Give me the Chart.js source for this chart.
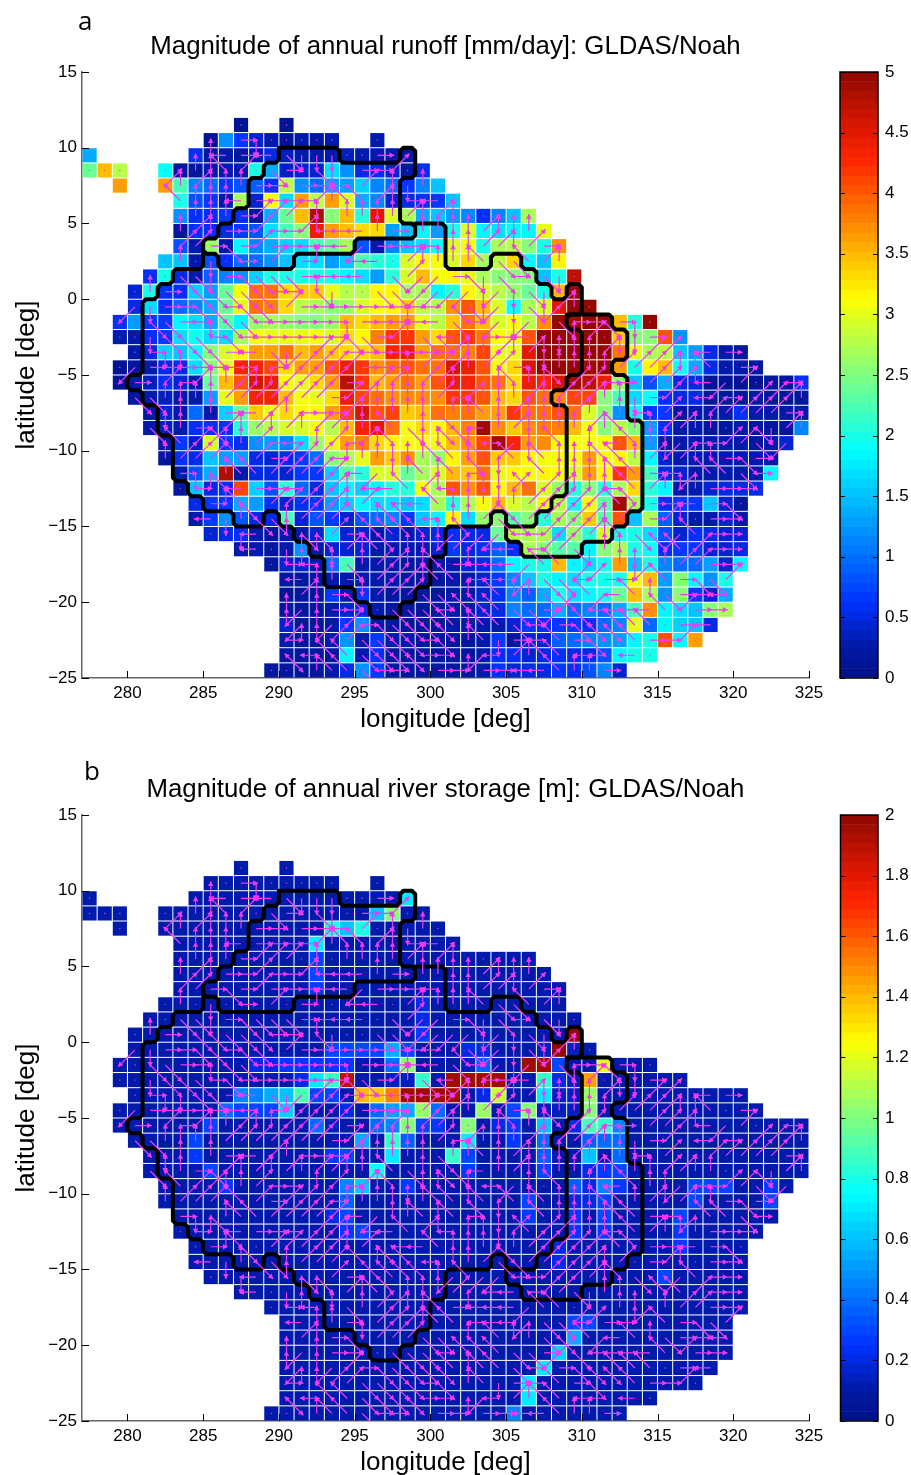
<!DOCTYPE html>
<html>
<head>
<meta charset="utf-8">
<title>Magnitude of annual runoff and river storage</title>
<script src="https://cdn.jsdelivr.net/npm/chart.js@4/dist/chart.umd.min.js"></script>
<style>
  html, body { margin: 0; padding: 0; background: #fff; overflow: hidden; }
  #page { position: relative; width: 911px; height: 1475px; overflow: hidden; }
  canvas { position: absolute; }
  .tag { position: absolute; font-family: "Open Sans", sans-serif; font-size: 26px; line-height: 30px; color: #000; }
</style>
</head>
<body>
<div id="page">
  <canvas id="mapA" width="911" height="737" style="left:0;top:0"></canvas>
  <canvas id="barA" width="81" height="737" style="left:830px;top:0"></canvas>
  <canvas id="mapB" width="911" height="737" style="left:0;top:743px"></canvas>
  <canvas id="barB" width="81" height="737" style="left:830px;top:743px"></canvas>
  <div class="tag" style="left:78px;top:5px">a</div>
  <div class="tag" style="left:84px;top:755px">b</div>
</div>
<script>
const lonTicks = [280, 285, 290, 295, 300, 305, 310, 315, 320, 325];
const latTicks = [-25, -20, -15, -10, -5, 0, 5, 10, 15];
const runoffBarTicks = [0, 0.5, 1, 1.5, 2, 2.5, 3, 3.5, 4, 4.5, 5];
const storageBarTicks = [0, 0.2, 0.4, 0.6, 0.8, 1, 1.2, 1.4, 1.6, 1.8, 2];

// upper latitude of each row of 1 degree cells, and the western longitude of its first cell
const rowTops = [12, 11, 10, 9, 8, 7, 6, 5, 4, 3, 2, 1, 0, -1, -2, -3, -4, -5, -6, -7, -8, -9, -10, -11, -12, -13, -14, -15, -16, -17, -18, -19, -20, -21, -22, -23, -24];
const rowStarts = [287, 285, 277, 277, 279, 283, 283, 283, 283, 282, 281, 280, 280, 279, 279, 280, 279, 279, 280, 281, 281, 282, 282, 283, 283, 284, 284, 285, 287, 289, 290, 290, 290, 290, 290, 290, 289];

const n = null;
// panel a, mm/day
const runoff = [
  [.1,n,n,.1],
  [.1,1.2,.7,.4,.3,.1,.25,.2,.25,n,n,.3],
  [1.4,n,n,n,n,n,n,.6,.2,.25,.2,.3,.5,.35,.25,.25,.3,.35,.3,.3,.3,.2],
  [2.4,3.5,2.8,n,n,1.95,.2,.2,.3,.3,.3,2,1.4,.35,.4,.4,1.7,1.2,.5,.6,.4,.2,.6],
  [3.6,n,n,3.6,2.2,1.1,1,.7,.8,.9,.6,2.8,1.2,1,1.3,1.3,1.6,1.1,1,.7,1.1,1.5],
  [2,.8,.7,.3,2.7,.4,3.1,1.7,3.6,2.8,3.6,2.9,1.4,1.1,.4,.5,.6,.7,1.5],
  [1.2,.6,.6,.7,.6,.2,1.4,2.4,3.5,4.8,2.5,3.5,2.1,4.5,2.9,2.7,1.4,1.5,1.3,1.1,.6,1.1,1.5,2.7],
  [.2,.6,.6,.5,.7,.8,1.7,2.2,2.5,4.4,3.6,3.5,3.3,3.3,1.3,1.5,1.8,1.3,2,2.9,1.8,1.7,1.8,1.8,3],
  [.8,.3,2.6,.3,1.8,1.1,1.4,1.6,1.7,2.2,2.4,2.7,.8,.3,1.1,1.5,1.7,1.9,2.9,3.1,2,2.7,2.8,2.5,2,3.7],
  [1.5,1.5,.3,.8,.6,1,1,1.2,1.5,1.7,1.7,1.3,1.5,2.3,2.1,2,2.9,3.2,3.1,2.9,3.3,2.7,2.8,3.3,1.8,1.5,3.2],
  [.6,2,.5,.3,.9,1.1,1.2,1.6,2,2,2,2,2,1.8,1.7,1.3,2.1,2.9,3.5,3.1,3.2,3,2.7,2.5,2.5,2.5,1.5,2,4.7],
  [.4,2,.6,.6,1.6,1.3,2.4,3.1,3.9,3.9,3.3,3.4,3.4,3,2.8,2.8,3.2,3.2,2.7,2.7,1.8,2.1,3.2,2.9,2.8,2.6,2.4,2,3.5,5],
  [.5,1.7,.6,1,1.1,1.4,2.4,3,3.9,3.8,3.3,2.8,2.7,2.5,2.6,2.9,3.1,3.2,3.4,2.8,2.8,3.7,4,3.5,2.9,1.9,2.7,2.9,4.5,5,5],
  [.6,1.3,.7,.7,1.8,1.7,1.4,2.3,1.8,2.6,2.7,2.6,2.5,2.5,2.6,3.5,3.3,3.5,3.6,3.6,3,2.8,3.4,3.9,3.5,2.9,3.1,2.8,3.7,5,4.9,5,5,3.5,2.1,5],
  [.3,.25,.6,.7,1.7,1.9,1.7,1.7,2.7,3.1,3,3,3,3.1,2.9,3.3,3.2,3.8,4.2,4.2,3.6,3.3,4,4.2,3.9,3.1,3,4,5,5,5,5,5,3.4,2.5,2.5,4,1.2],
  [.3,.5,1.6,1.5,1.9,2.5,2.9,3.2,3.6,3.6,3.9,3.5,3.6,3.4,3.3,3.3,3.5,4.3,4.4,3.6,3.9,3.9,3.8,4.1,3,3,4.5,5,5,5,5,5,3.9,3,2.7,2.8,1.5,1.3,.5,.3,.2],
  [.15,.2,.3,.5,.5,1.7,2.5,3,4.3,4.3,4.1,3.3,3.6,3.6,4,4.4,4.2,3.7,3.9,4,3.9,3.9,4.6,4.4,4,3.1,3.3,4.6,5,5,5,4.9,5,3.6,2,3.2,3.5,1.9,1.4,.5,.3,.3,.2],
  [.1,.3,.35,.6,.4,.3,2.4,3.5,4,4.6,4.4,3.1,3,3.3,3.6,4.7,4.2,3.5,3.6,3.9,3.6,4,4.4,4.3,4,3.9,3.3,4.4,4.3,4.6,4.9,4.7,4.4,2.6,1.5,.8,1.4,.5,.5,.15,.15,.15,.15,.2,.2,.6],
  [.2,.3,.35,.3,.3,1.3,3,3.6,4.3,4.3,3.5,3.1,3,3.3,4.4,4.1,3.9,3.7,3.7,3.7,3.7,4.2,4.2,4,3.5,3.3,4,3.9,3.7,4.1,4.1,2.5,2.2,1.7,1.9,.6,.5,.5,.2,.2,.2,.3,.2,.2,.2],
  [.25,.4,.3,1,.3,1.6,2.4,3.4,3,3.3,3.2,3.2,3.6,4.1,4.6,4,4.1,3.4,3.5,3.9,3.8,3.9,3.6,3.6,4.2,3.9,3.9,4,3.9,2.9,2.5,1.2,1.8,.7,.7,.2,.3,.3,.3,.6,.3,.3,.3,.3],
  [.25,.35,.3,.6,.6,.6,2.1,2.6,2.8,2.9,2.9,3.1,2.8,3.5,4.3,4.5,3.9,3.1,3.3,3.2,3.5,3.8,4.9,3.7,3.4,3.7,3.8,3.8,3.5,3.1,2.5,2.8,2.5,1.3,.6,.3,.25,.2,.2,.25,.2,.2,.2,1.1],
  [.3,.7,.35,2.9,.7,.6,1.2,1.3,1.1,1.7,2.6,3,3.6,3.8,3.3,3.2,3.1,3.1,3.1,3.5,3.7,4.1,4.9,4.3,3.6,3.7,3.1,3.1,3.1,3.1,4,3.5,1.3,.3,.25,.3,.25,.25,.25,.2,.3,.4],
  [.2,.6,.5,1.5,1.3,1.3,.5,.4,.5,.7,1,2.5,2.7,3,3.6,3.4,3.7,2.7,2.6,3.2,3.6,4,3.4,3.4,3.2,3.1,3.1,3.1,3.6,3.1,3.2,2.8,1.8,.4,.25,.3,.25,.3,.25,.3,.3],
  [.3,.8,1.4,4.8,.3,.5,.5,.4,.7,.7,1.6,2.3,2.1,2.9,2.9,2.4,2.7,2.9,3.5,3.4,3.9,3,3.2,3.1,3.2,3.1,2.9,3.6,3.2,4.2,3.6,2.2,.5,.4,.25,.3,.3,.3,.3,1.8],
  [.2,1.5,.5,.6,4.1,1.6,.8,2.1,1,.5,1.5,1.8,1.6,1.8,2.1,2.1,3.1,2.7,4,3.7,4,3.2,3.5,3.9,2.9,2.6,2.1,2.5,2.1,2.7,3.3,2.1,1.8,.3,.3,.4,.5,.5,.5],
  [.5,.7,.7,1.4,1.3,.6,.4,.6,.7,1.3,1.6,1.8,1.7,1.7,1.5,1.7,2.7,2.1,2.7,3.1,3.5,2.9,2.8,3.1,2.8,1.9,3.1,2.3,4.9,2.7,2,.6,.7,.7,1.5,.4,.2],
  [.3,.7,1.2,.8,.5,.5,2.2,.4,.8,.7,.4,.8,1,1.1,.7,1.5,1.8,3.2,1.7,2.6,2.5,2.3,2.5,2.1,2.7,2.5,3.4,2.3,4,1.5,2.7,.9,.4,.3,.3,.4,.3],
  [.4,.5,.6,.3,.2,.3,.3,.4,1.7,.4,.4,.3,.4,.3,.4,.5,.6,.5,.5,2.4,2.8,2.7,2.7,1.7,2.6,2.1,2.9,2,2,1.7,.8,.4,.6,.5,.4,.4],
  [.3,.25,.2,.25,1.2,.3,.4,.4,.4,.3,.3,.3,.3,.4,.7,.5,.6,.9,.6,2.7,2.5,2.3,2.3,1.8,2.5,2.7,2,1.9,.6,.7,.7,.4,.4,.5],
  [.2,.4,.4,.3,1,2.2,.3,.3,.3,.2,.3,.3,.3,.4,.5,1,1.8,2,2,3.5,1.8,1.7,2,3.6,1.5,2,1.1,1,1,1.3,.4,1.8],
  [.2,.2,.2,.3,.3,.3,.3,.3,.2,.2,.2,.3,.3,.4,.7,1.1,1.5,2,1.8,1.7,2,2,2,3.1,3.5,1.3,2.5,1.8,1.2,2],
  [.1,.2,.2,.7,.3,.7,.3,.2,.2,.2,.2,.3,.3,.4,.6,1.1,.9,1.4,2,1.7,1.8,2,2.4,3.5,2.7,1.2,2.5,.7,.4,1.4],
  [.2,.2,.2,.3,.4,.5,.3,.2,.2,.2,.2,.3,.3,.4,.5,1.1,1,1,1.4,1,1.1,1,1.4,2.2,3.7,1.8,1.7,1.5,2.5,2.7],
  [.4,.2,.2,.3,.7,1.2,.3,.2,.2,.2,.2,.3,.25,.3,.3,.4,.7,.6,.7,.7,.6,1,1.1,3,1,1.8,1.6,1.5,.5],
  [.3,.2,.2,.3,1.2,.3,.7,.3,.3,.2,.2,.2,.2,.3,.7,.2,.4,.4,.9,1,1.1,1.2,1.3,1.8,2,4,1.8,3.6],
  [.2,.2,.2,.2,1.8,.3,.6,.2,.2,.2,.2,.2,.2,.3,.6,.6,.4,.5,.6,.5,.5,.8,1.8,2,2],
  [.2,.2,.2,.2,.3,.5,1.2,.7,.2,.2,.2,.2,.2,.2,.3,.6,.4,.5,.5,.7,.6,.8,1.1,.4]
];

// panel b, m
const storage = [
  [.1,n,n,.1],
  [.1,.1,.1,.1,.1,.1,.1,.1,.1,n,n,.1],
  [.1,n,n,n,n,n,n,.1,.1,.1,.1,.1,.1,.1,.1,.1,.1,.1,.1,.1,.1,.7],
  [.1,.1,.1,n,n,.1,.1,.1,.1,.1,.1,.1,.1,.1,.1,.1,.1,.1,.1,.6,1,.1,.1],
  [.1,n,n,.1,.1,.1,.1,.1,.1,.1,.1,.1,.1,.1,.8,.6,.8,.1,.1,.1,.1,.1],
  [.1,.1,.1,.1,.1,.1,.1,.1,.1,.7,.1,.1,.1,.1,.1,.1,.1,.1,.1],
  [.1,.1,.1,.1,.1,.1,.1,.1,.1,.3,.1,.1,.1,.1,.1,.1,.1,.1,.1,.1,.1,.1,.1,.1],
  [.1,.1,.1,.1,.1,.1,.1,.1,.1,.3,.1,.1,.1,.1,.1,.1,.1,.1,.1,.1,.1,.1,.1,.1,.1],
  [.1,.1,.1,.1,.1,.1,.1,.1,.1,.25,.1,.1,.1,.1,.1,.1,.1,.1,.1,.1,.1,.1,.1,.1,.1,.1],
  [.1,.1,.1,.1,.1,.1,.1,.1,.1,.1,.1,.1,.1,.1,.1,.1,.1,.2,.1,.1,.1,.1,.1,.1,.1,.1,.1],
  [.1,.1,.1,.1,.1,.1,.1,.1,.1,.1,.1,.1,.1,.1,.1,.1,.1,.1,.2,.1,.1,.1,.1,.1,.1,.1,.1,.1,.1],
  [.1,.1,.1,.1,.1,.1,.1,.1,.1,.1,.1,.1,.1,.1,.1,.1,.1,.1,.1,.25,.1,.1,.1,.15,.1,.1,.1,.1,.1,2],
  [.1,.1,.1,.1,.1,.1,.1,.1,.1,.1,.1,.1,.1,.3,.3,.3,.3,.55,.3,.1,.1,.1,.2,.2,.1,.1,.1,.15,2,.15,.1],
  [.1,.1,.1,.1,.1,.1,.1,.1,.1,.2,.2,.25,.25,.25,.25,.25,.1,.1,.4,1,.1,.1,.1,.15,.35,.1,.1,1.95,1.95,.3,.1,.1,1.2,.1,.1,.1],
  [.1,.1,.1,.1,.1,.1,.1,.1,.1,.1,.1,.1,.2,.7,.85,1.9,.1,.1,.15,.15,.85,.1,1.95,1.95,1.95,1.95,.1,.1,.85,.2,.15,1.45,.1,.1,.1,.1,.1,.1],
  [.1,.1,.1,.1,.1,.1,.1,.45,.45,.55,.6,.9,.3,.3,.1,1.4,1.35,1.5,1.95,1.95,1.95,1.95,.1,.2,1.15,.1,.1,.7,.15,.15,1.05,.1,.1,.1,.1,.1,.1,.1,.1,.1,.1],
  [.1,.1,.1,.1,.1,.1,.1,.4,.3,.3,.3,.65,.1,.1,.1,.2,.1,.4,.5,.55,1.05,.4,.1,.1,1.05,.1,.3,1,.15,.15,.15,1,.1,.1,.1,.1,.1,.1,.1,.1,.1,.1,.1],
  [.1,.1,.1,.1,.1,.1,.3,.1,.1,.1,.1,.1,.1,.4,.15,.1,.1,.4,.45,1,.3,.25,.1,1,.1,.2,.25,.1,.6,.1,.2,.9,.85,.45,.1,.1,.1,.1,.1,.1,.1,.1,.1,.1,.1,.1],
  [.1,.1,.1,.1,.3,.1,.1,.1,.1,.1,.1,.1,.1,.1,.1,.55,.1,.85,.35,.1,.1,.1,.7,.1,.1,.25,.1,.4,.1,.1,.35,.4,.4,.1,.1,.1,.1,.1,.1,.1,.1,.1,.1,.1,.1],
  [.1,.1,.1,.25,.1,.1,.1,.1,.1,.1,.1,.1,.25,.3,.1,.1,.7,.1,.1,.1,.85,.3,.1,.1,.1,.1,.35,.1,.1,.6,.1,.4,.1,.1,.1,.1,.1,.1,.1,.1,.1,.1,.1,.1],
  [.1,.1,.1,.1,.3,.1,.1,.1,.1,.1,.1,.1,.1,.1,.1,.75,.1,.1,.1,.1,.1,.25,.1,.1,.1,.1,.3,.1,.1,.2,.25,.3,.1,.1,.1,.1,.1,.1,.1,.1,.1,.1,.1,.1],
  [.1,.1,.1,.1,.25,.1,.1,.1,.1,.1,.1,.1,.45,.6,.1,.1,.25,.1,.1,.1,.1,.1,.1,.1,.1,.1,.1,.35,.2,.45,.25,.1,.1,.1,.1,.3,.3,.3,.1,.1,.25,.1],
  [.1,.1,.1,.1,.1,.1,.1,.1,.1,.1,.1,.1,.35,.1,.1,.1,.1,.1,.1,.1,.1,.1,.1,.1,.3,.1,.1,.2,.2,.3,.1,.1,.1,.1,.1,.3,.1,.1,.1,.1,.3],
  [.1,.1,.1,.1,.1,.1,.1,.1,.1,.1,.2,.3,.1,.1,.1,.1,.1,.1,.1,.1,.1,.1,.1,.25,.1,.1,.25,.1,.3,.1,.1,.1,.1,.3,.1,.1,.1,.1,.1,.1],
  [.1,.1,.1,.1,.1,.1,.1,.1,.1,.1,.1,.25,.3,.1,.1,.1,.1,.1,.1,.1,.1,.1,.1,.1,.1,.1,.25,.1,.25,.1,.1,.1,.1,.25,.1,.1,.1,.1,.1],
  [.1,.1,.1,.1,.1,.1,.1,.1,.1,.1,.1,.1,.1,.1,.1,.1,.1,.1,.1,.1,.1,.1,.1,.1,.2,.1,.1,.1,.1,.1,.1,.1,.25,.1,.1,.1,.1],
  [.1,.1,.1,.1,.1,.1,.1,.1,.1,.1,.1,.1,.1,.1,.1,.1,.1,.1,.1,.1,.1,.1,.1,.1,.2,.1,.1,.1,.1,.1,.1,.1,.1,.1,.1,.1,.1],
  [.1,.1,.1,.1,.1,.1,.1,.1,.1,.1,.1,.1,.1,.1,.1,.1,.1,.1,.1,.1,.1,.1,.1,.1,.1,.1,.1,.1,.1,.1,.3,.1,.1,.1,.1,.1],
  [.1,.1,.1,.1,.1,.1,.1,.1,.1,.1,.1,.1,.1,.1,.1,.1,.1,.1,.1,.1,.1,.1,.1,.1,.1,.1,.1,.1,.1,.1,.1,.1,.1,.1],
  [.1,.1,.1,.1,.1,.1,.1,.1,.1,.1,.1,.1,.1,.1,.1,.1,.1,.1,.1,.1,.1,.1,.1,.1,.1,.1,.1,.1,.1,.1,.1,.1],
  [.1,.1,.1,.1,.1,.1,.1,.1,.1,.1,.1,.1,.1,.1,.1,.1,.1,.1,.1,.3,.3,.1,.1,.1,.1,.1,.1,.1,.1,.1],
  [.1,.1,.1,.1,.1,.1,.1,.1,.1,.1,.1,.1,.1,.1,.1,.1,.1,.1,.1,.55,.1,.1,.1,.1,.1,.1,.1,.1,.1,.1],
  [.1,.1,.1,.1,.1,.1,.1,.1,.1,.1,.1,.1,.1,.1,.1,.1,.1,.1,.65,.1,.1,.1,.1,.1,.1,.1,.1,.1,.1,.1],
  [.1,.1,.1,.1,.1,.1,.1,.1,.1,.1,.1,.1,.1,.1,.1,.1,.1,.7,.1,.1,.1,.1,.1,.1,.1,.1,.1,.1,.1],
  [.1,.1,.1,.1,.1,.1,.1,.1,.1,.1,.1,.1,.1,.1,.1,.1,.7,.1,.1,.1,.1,.1,.1,.1,.1,.1,.1,.1],
  [.1,.1,.1,.1,.1,.1,.1,.1,.1,.1,.1,.1,.1,.1,.1,.1,.7,.1,.1,.1,.1,.1,.1,.1,.1],
  [.1,.1,.1,.1,.1,.1,.1,.1,.1,.1,.1,.1,.1,.1,.1,.1,.45,.1,.1,.1,.1,.1,.1,.1]
];

// flow direction of each cell, keypad style: 8 north, 6 east, 3 south-east ... 5 no arrow
const flowDirs = [
  "5  5",
  "556255555  5",
  "5      584654322255655",
  "555  558879536532566955",
  "5  9898886656654958285",
  "7888466669877986545",
  "588869995858888989855555",
  "8986696698444865888898885",
  "99636966654416665488998965",
  "585256595685544598888733798",
  "55332633336244453911632365325",
  "586533333665325533511112123255",
  "1266336335966666662443321232985",
  "553366233666666266654436512193663625",
  "55233363666666633698334566142289522655",
  "56223365432199666666698898928889859955465",
  "5166666544659999666899989965388889999887565",
  "56596988988999965998998518788799665999841" + "95565",
  "338888999999969988889658889899988269554659998",
  "52858654986669888883887898889818659559999965",
  "38863989898998857383354898888587889988553298",
  "5799889665896987288" + "78541857585478816699351",
  "8999579699968888887" + "7872787888778989886365",
  "623877999995418878" + "7672557888877654177365",
  "568346654998544798" + "488297998884798886665",
  "56835999998935447" + "88838999995776654635",
  "54283389995787764" + "88933999998956985665",
  "5524583396577778" + "17116699998735517665",
  "54528829877888" + "92544699328855779665",
  "568483899887" + "65444177511881899665",
  "54886299987" + "7544413369668576339",
  "59863899933" + "3857883357147836654",
  "81866553336" + "5777336935444479665",
  "81819633333" + "787736963337775654",
  "68899333363" + "78726547637776695",
  "35477333366" + "55149877544545",
  "557877366576" + "686654478865"
];
const dirSteps = { "8": [0, 1], "9": [1, 1], "6": [1, 0], "3": [1, -1], "2": [0, -1], "1": [-1, -1], "4": [-1, 0], "7": [-1, 1] };

// basin outlines, corners on whole degrees
const northLon = [290,294,294,298,298,299,299,298,298,299,299,295,295,291,291,286,286,285,285,286,286,287,287,288,288,289,289,290,290];
const northLat = [10,10,9,9,10,10,8,8,5,5,4,4,3,3,2,2,3,3,4,4,5,5,6,6,8,8,9,9,10];
const mainLon = [285,285,283,283,282,282,281,281,280,280,281,281,282,282,283,283,284,284,285,285,287,287,289,289,290,290,291,291,292,292,293,293,295,295,296,296,298,298,299,299,300,300,301,301,304,304,305,305,307,307,308,308,309,309,308,308,309,309,310,310,309,309,310,310,309,309,308,308,307,307,306,306,304,304,301,301,299];
const mainLat = [3,2,2,1,1,0,0,-5,-5,-6,-6,-7,-7,-9,-9,-12,-12,-13,-13,-14,-14,-15,-15,-14,-14,-15,-15,-16,-16,-17,-17,-19,-19,-20,-20,-21,-21,-20,-20,-19,-19,-17,-17,-15,-15,-14,-14,-15,-15,-14,-14,-13,-13,-7,-7,-6,-6,-5,-5,-2,-2,-1,-1,1,1,0,0,1,1,2,2,3,3,2,2,5,5];
const eastLon = [309,312,312,313,313,312,312,313,313,314,314,313,313,312,312,310,310,306,306,305,305];
const eastLat = [-1,-1,-2,-2,-4,-4,-5,-5,-8,-8,-14,-14,-15,-15,-16,-16,-17,-17,-16,-16,-15];

// jet with a greener low end and a softer red, as the colour bar shows
const jetStops = [
  [0, 0, 15, 135], [0.05, 0, 25, 165], [0.125, 0, 50, 255], [0.375, 0, 255, 255],
  [0.625, 255, 255, 0], [0.85, 255, 40, 0], [0.9, 225, 25, 0], [1, 140, 8, 0]
];
const colorLevels = 64;

function jetColor(t) {
  for (let i = 1; i < jetStops.length; i++) {
    if (t <= jetStops[i][0]) {
      const a = jetStops[i - 1], b = jetStops[i];
      const f = (t - a[0]) / (b[0] - a[0]);
      return `rgb(${Math.round(a[1] + f * (b[1] - a[1]))},${Math.round(a[2] + f * (b[2] - a[2]))},${Math.round(a[3] + f * (b[3] - a[3]))})`;
    }
  }
  return "rgb(140,8,0)";
}

function levelColor(v, max) {
  const level = Math.min(colorLevels - 1, Math.floor(v / max * colorLevels));
  return jetColor((level + 0.5) / colorLevels);
}

// cut each corner a little so the outline looks rounded like the original
function roundCorners(lons, lats) {
  const pts = [];
  const cut = 0.22;
  lons.forEach((lon, i) => {
    if (i === 0 || i === lons.length - 1) { pts.push({ x: lon, y: lats[i] }); return; }
    const dx1 = Math.sign(lons[i - 1] - lon), dy1 = Math.sign(lats[i - 1] - lats[i]);
    const dx2 = Math.sign(lons[i + 1] - lon), dy2 = Math.sign(lats[i + 1] - lats[i]);
    pts.push({ x: lon + dx1 * cut, y: lats[i] + dy1 * cut });
    pts.push({ x: lon + dx2 * cut, y: lats[i] + dy2 * cut });
  });
  return pts;
}

function buildCells(values, max) {
  const points = [], colors = [];
  values.forEach((row, r) => {
    row.forEach((v, c) => {
      if (v === null) return;
      points.push({ x: rowStarts[r] + c + 0.5, y: rowTops[r] - 0.5 });
      colors.push(levelColor(v, max));
    });
  });
  return { points, colors };
}

function buildArrows() {
  const lines = [], heads = [], angles = [], dots = [];
  const reach = 1.12;
  flowDirs.forEach((row, r) => {
    for (let c = 0; c < row.length; c++) {
      const x = rowStarts[r] + c + 0.5, y = rowTops[r] - 0.5;
      const step = dirSteps[row[c]];
      if (row[c] === "5") dots.push({ x, y });
      if (!step) continue;
      const len = Math.hypot(step[0], step[1]);
      const tipX = x + step[0] * reach, tipY = y + step[1] * reach;
      lines.push({ x, y }, { x: tipX, y: tipY }, { x: NaN, y: NaN });
      heads.push({ x: tipX - step[0] / len * 0.21, y: tipY - step[1] / len * 0.21 });
      angles.push(Math.atan2(step[0], step[1]) * 180 / Math.PI);
    }
  });
  return { lines, heads, angles, dots };
}

const arrows = buildArrows();
const tickFont = { family: "'Liberation Sans', Arial, sans-serif", size: 17 };
const labelFont = { family: "'Liberation Sans', Arial, sans-serif", size: 26 };
const titleFont = { family: "'Liberation Sans', Arial, sans-serif", size: 25.8, weight: "normal", lineHeight: 1.2 };
const minusLabel = v => String(v).replace("-", "\u2212");

// matlab style ticks, pointing into the plot
const innerTicks = {
  id: "innerTicks",
  afterDatasetsDraw(chart) {
    const { ctx, chartArea, scales } = chart;
    ctx.save();
    ctx.strokeStyle = "#000";
    ctx.lineWidth = 1;
    ctx.beginPath();
    scales.x.ticks.forEach(t => {
      const px = Math.round(scales.x.getPixelForValue(t.value)) + 0.5;
      ctx.moveTo(px, chartArea.bottom);
      ctx.lineTo(px, chartArea.bottom - 7);
    });
    scales.y.ticks.forEach(t => {
      const py = Math.round(scales.y.getPixelForValue(t.value)) + 0.5;
      ctx.moveTo(chartArea.left, py);
      ctx.lineTo(chartArea.left + 7, py);
    });
    ctx.stroke();
    ctx.restore();
  }
};

const barFrame = {
  id: "barFrame",
  afterDatasetsDraw(chart) {
    const { ctx, chartArea, scales } = chart;
    ctx.save();
    ctx.strokeStyle = "#000";
    ctx.lineWidth = 1.5;
    ctx.strokeRect(chartArea.left, chartArea.top, chartArea.width, chartArea.height);
    ctx.lineWidth = 1;
    ctx.beginPath();
    scales.y.ticks.forEach(t => {
      const py = Math.round(scales.y.getPixelForValue(t.value)) + 0.5;
      ctx.moveTo(chartArea.left, py);
      ctx.lineTo(chartArea.left + 5, py);
      ctx.moveTo(chartArea.right, py);
      ctx.lineTo(chartArea.right - 5, py);
    });
    ctx.stroke();
    ctx.restore();
  }
};

function drawMap(canvasId, values, max, titleText) {
  const cells = buildCells(values, max);
  const outline = (lons, lats) => ({
    data: roundCorners(lons, lats),
    showLine: true,
    borderColor: "#000",
    borderWidth: 4,
    borderJoinStyle: "round",
    borderCapStyle: "round",
    pointRadius: 0,
    order: 2
  });
  new Chart(document.getElementById(canvasId), {
    type: "scatter",
    data: {
      datasets: [
        { data: cells.points, pointStyle: "rect", pointRadius: 10, pointBorderWidth: 0, pointBackgroundColor: cells.colors, order: 4 },
        outline(northLon, northLat),
        outline(mainLon, mainLat),
        outline(eastLon, eastLat),
        { data: arrows.lines, showLine: true, spanGaps: false, borderColor: "#f03cf0", borderWidth: 1.2, pointRadius: 0, order: 1 },
        { data: arrows.heads, pointStyle: "triangle", pointRadius: 3.2, pointRotation: arrows.angles, pointBorderWidth: 0, pointBackgroundColor: "#f03cf0", order: 0 },
        { data: arrows.dots, pointStyle: "circle", pointRadius: 0.7, pointBorderWidth: 0, pointBackgroundColor: "#f03cf0", order: 0 }
      ]
    },
    options: {
      responsive: false,
      animation: false,
      events: [],
      layout: { padding: { left: 0, right: 102, top: 0, bottom: 0 } },
      plugins: {
        legend: { display: false },
        tooltip: { enabled: false },
        title: {
          display: true,
          text: titleText,
          fullSize: false,
          color: "#000",
          font: titleFont,
          padding: { top: 31, bottom: 10 }
        }
      },
      scales: {
        x: {
          type: "linear",
          min: 277,
          max: 325,
          afterBuildTicks: s => { s.ticks = lonTicks.map(value => ({ value })); },
          afterFit: s => { s.height = 59; },
          grid: { drawOnChartArea: false, drawTicks: false },
          border: { color: "#666", width: 1.5 },
          ticks: { color: "#000", font: tickFont, padding: 5, maxRotation: 0, autoSkip: false, callback: minusLabel },
          title: { display: true, text: "longitude [deg]", color: "#000", font: labelFont, padding: { top: 0, bottom: 2 } }
        },
        y: {
          type: "linear",
          min: -25,
          max: 15,
          afterBuildTicks: s => { s.ticks = latTicks.map(value => ({ value })); },
          afterFit: s => { s.width = 82; },
          grid: { drawOnChartArea: false, drawTicks: false },
          border: { color: "#666", width: 1.5 },
          ticks: { color: "#000", font: tickFont, padding: 5, autoSkip: false, callback: minusLabel },
          title: { display: true, text: "latitude [deg]", color: "#000", font: labelFont, padding: { top: 11, bottom: 0 } }
        }
      }
    },
    plugins: [innerTicks]
  });
}

function drawBar(canvasId, max, barTicks, leftGap) {
  const bands = [];
  for (let i = 0; i < colorLevels; i++) {
    bands.push({
      data: [[i / colorLevels * max, (i + 1) / colorLevels * max]],
      backgroundColor: jetColor((i + 0.5) / colorLevels),
      barPercentage: 1,
      categoryPercentage: 1,
      grouped: false
    });
  }
  new Chart(document.getElementById(canvasId), {
    type: "bar",
    data: { labels: [""], datasets: bands },
    options: {
      responsive: false,
      animation: false,
      events: [],
      layout: { padding: { left: leftGap, right: 0, top: 72, bottom: 59 } },
      plugins: { legend: { display: false }, tooltip: { enabled: false } },
      scales: {
        x: { display: false },
        y: {
          position: "right",
          min: 0,
          max: max,
          afterBuildTicks: s => { s.ticks = barTicks.map(value => ({ value })); },
          afterFit: s => { s.width = 33; },
          grid: { drawOnChartArea: false, drawTicks: false },
          border: { display: false },
          ticks: { color: "#000", font: tickFont, padding: 7, autoSkip: false, callback: v => String(v) }
        }
      }
    },
    plugins: [barFrame]
  });
}

drawMap("mapA", runoff, 5, "Magnitude of annual runoff [mm/day]: GLDAS/Noah");
drawBar("barA", 5, runoffBarTicks, 10);
drawMap("mapB", storage, 2, "Magnitude of annual river storage [m]: GLDAS/Noah");
drawBar("barB", 2, storageBarTicks, 10.5);
</script>
</body>
</html>
